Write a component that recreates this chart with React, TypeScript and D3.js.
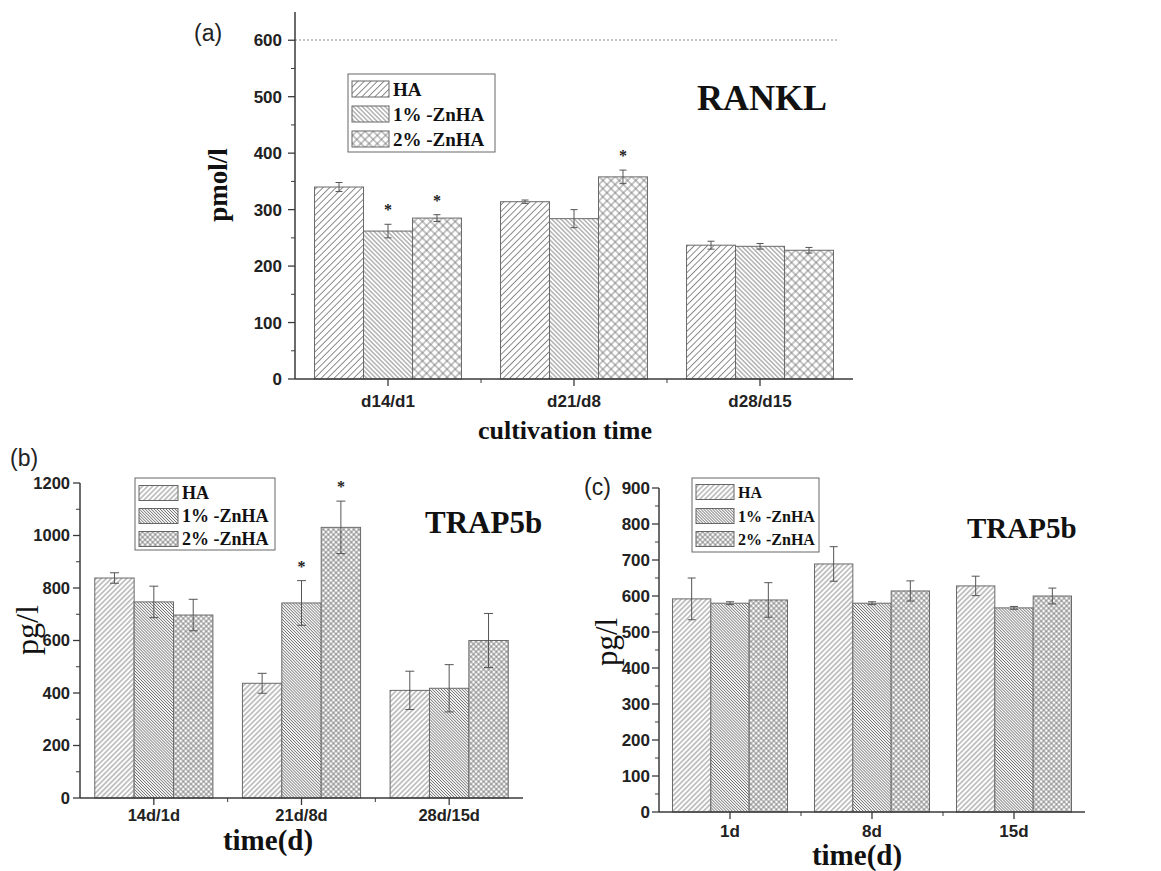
import * as d3 from 'd3'

const seriesNames = ['HA', '1% -ZnHA', '2% -ZnHA']

// (a) RANKL, pmol/l
const rankCats = ['d14/d1', 'd21/d8', 'd28/d15']
const rankHA = [340, 314, 237]
const rank1 = [262, 284, 235]
const rank2 = [285, 358, 228]
const rankErrHA = [8, 3, 7]
const rankErr1 = [12, 16, 5]
const rankErr2 = [6, 12, 5]
const rankStars = [[0, 1], [0, 2], [1, 2]] // [category, series]
const rankTicks = [0, 100, 200, 300, 400, 500, 600]

// (b) TRAP5b, pg/l
const trapCats = ['14d/1d', '21d/8d', '28d/15d']
const trapHA = [838, 437, 410]
const trap1 = [747, 743, 418]
const trap2 = [697, 1031, 600]
const trapErrHA = [20, 38, 73]
const trapErr1 = [60, 85, 90]
const trapErr2 = [60, 100, 103]
const trapStars = [[1, 1], [1, 2]]
const trapTicks = [0, 200, 400, 600, 800, 1000, 1200]

// (c) TRAP5b per day, pg/l
const dayCats = ['1d', '8d', '15d']
const dayHA = [592, 689, 628]
const day1 = [580, 580, 567]
const day2 = [589, 614, 600]
const dayErrHA = [58, 48, 27]
const dayErr1 = [4, 4, 4]
const dayErr2 = [48, 28, 22]
const dayTicks = [0, 100, 200, 300, 400, 500, 600, 700, 800, 900]

const SANS = '"Liberation Sans", Arial, sans-serif'
const SERIF = '"Liberation Serif", "Times New Roman", serif'
const HATCH = '#707070'
const AXIS = '#3a3a3a'

function hatch(id: string, s: number, angle: number, cross: boolean) {
  return (
    <pattern key={id} id={id} patternUnits="userSpaceOnUse" width={s} height={s}
      patternTransform={`rotate(${angle})`}>
      <rect width={s} height={s} fill="#fff" />
      <line x1={s / 2} y1={0} x2={s / 2} y2={s} stroke={HATCH} strokeWidth={0.8} />
      {cross && <line x1={0} y1={s / 2} x2={s} y2={s / 2} stroke={HATCH} strokeWidth={0.8} />}
    </pattern>
  )
}

type PanelProps = {
  tag: string
  cats: string[]
  vals: number[][]
  errs: number[][]
  stars: number[][]
  ticks: number[]
  minor: number
  yMax: number
  left: number
  right: number
  top: number
  bottom: number
  pad: number
  tickFont: number
  tickGap: number
  xTickY: number
  cap: number
  spacing: number[]
  legend: { x: number; y: number; w: number; h: number; rows: number[]; sw: number; sh: number; font: number }
}

function Panel(p: PanelProps) {
  const x = d3.scaleBand<string>().domain(p.cats).range([p.left, p.right])
    .paddingInner(p.pad).paddingOuter(p.pad / 2)
  const xs = d3.scaleBand<number>().domain([0, 1, 2]).range([0, x.bandwidth()])
  const y = d3.scaleLinear().domain([0, p.yMax]).range([p.bottom, p.top])
  const minors = d3.range(p.minor, p.yMax, p.minor).filter(v => !p.ticks.includes(v))
  const centers = p.cats.map(c => (x(c) as number) + x.bandwidth() / 2)
  const seps = centers.slice(0, -1).map((c, i) => (c + centers[i + 1]) / 2)
  const pats = [`${p.tag}-ha`, `${p.tag}-one`, `${p.tag}-two`]
  const L = p.legend

  return (
    <g>
      <defs>
        {hatch(pats[0], p.spacing[0], 45, false)}
        {hatch(pats[1], p.spacing[1], -45, false)}
        {hatch(pats[2], p.spacing[2], 45, true)}
      </defs>

      {p.cats.map((c, ci) => p.vals.map((vs, si) => (
        <rect key={`b${ci}-${si}`} x={(x(c) as number) + (xs(si) as number)} y={y(vs[ci])}
          width={xs.bandwidth()} height={p.bottom - y(vs[ci])}
          fill={`url(#${pats[si]})`} stroke="#6a6a6a" strokeWidth={1} />
      )))}

      {p.cats.map((c, ci) => p.vals.map((vs, si) => {
        const cx = (x(c) as number) + (xs(si) as number) + xs.bandwidth() / 2
        const hi = y(vs[ci] + p.errs[si][ci])
        const lo = y(vs[ci] - p.errs[si][ci])
        return (
          <g key={`e${ci}-${si}`} stroke="#555" strokeWidth={1}>
            <line x1={cx} x2={cx} y1={hi} y2={lo} />
            <line x1={cx - p.cap / 2} x2={cx + p.cap / 2} y1={hi} y2={hi} />
            <line x1={cx - p.cap / 2} x2={cx + p.cap / 2} y1={lo} y2={lo} />
          </g>
        )
      }))}

      {p.stars.map(([ci, si]) => {
        const cx = (x(p.cats[ci]) as number) + (xs(si) as number) + xs.bandwidth() / 2
        const top = y(p.vals[si][ci] + p.errs[si][ci])
        return (
          <text key={`s${ci}-${si}`} x={cx} y={top - 9} textAnchor="middle"
            fontFamily={SERIF} fontWeight="bold" fontSize={16} fill="#222">*</text>
        )
      })}

      {/* y axis */}
      <line x1={p.left} x2={p.left} y1={p.top} y2={p.bottom} stroke={AXIS} strokeWidth={1.5} />
      {p.ticks.map(t => (
        <g key={`t${t}`}>
          <line x1={p.left - 7} x2={p.left} y1={y(t)} y2={y(t)} stroke={AXIS} strokeWidth={1.3} />
          <text x={p.left - p.tickGap} y={y(t)} dy="0.36em" textAnchor="end"
            fontFamily={SANS} fontWeight="bold" fontSize={p.tickFont} fill="#222">{t}</text>
        </g>
      ))}
      {minors.map(t => (
        <line key={`m${t}`} x1={p.left - 4} x2={p.left} y1={y(t)} y2={y(t)} stroke={AXIS} strokeWidth={1} />
      ))}

      {/* x axis */}
      <line x1={p.left} x2={p.right} y1={p.bottom} y2={p.bottom} stroke={AXIS} strokeWidth={1.5} />
      {centers.map((c, i) => (
        <g key={`xc${i}`}>
          <line x1={c} x2={c} y1={p.bottom} y2={p.bottom + 7} stroke={AXIS} strokeWidth={1.3} />
          <text x={c} y={p.xTickY} textAnchor="middle" fontFamily={SANS} fontWeight="bold"
            fontSize={p.tickFont} fill="#222">{p.cats[i]}</text>
        </g>
      ))}
      {seps.map((s, i) => (
        <line key={`xs${i}`} x1={s} x2={s} y1={p.bottom} y2={p.bottom + 4} stroke={AXIS} strokeWidth={1} />
      ))}

      {/* legend */}
      <rect x={L.x} y={L.y} width={L.w} height={L.h} fill="#fff" stroke="#666" strokeWidth={1} />
      {seriesNames.map((n, i) => (
        <g key={`l${i}`}>
          <rect x={L.x + 4} y={L.rows[i] - L.sh / 2} width={L.sw} height={L.sh}
            fill={`url(#${pats[i]})`} stroke="#666" strokeWidth={1} />
          <text x={L.x + L.sw + 8} y={L.rows[i]} dy="0.35em" fontFamily={SERIF}
            fontWeight="bold" fontSize={L.font} fill="#111">{n}</text>
        </g>
      ))}
    </g>
  )
}

export default function App() {
  return (
    <svg width={1161} height={871} style={{ position: 'absolute', left: 0, top: 0, background: '#fff' }}>
      {/* (a) */}
      <line x1={295} x2={838} y1={40} y2={40} stroke="#888" strokeWidth={1} strokeDasharray="2,2" />
      <Panel tag="a" cats={rankCats} vals={[rankHA, rank1, rank2]} errs={[rankErrHA, rankErr1, rankErr2]}
        stars={rankStars} ticks={rankTicks} minor={50} yMax={650}
        left={295} right={853} top={12} bottom={379} pad={0.21}
        tickFont={17} tickGap={13} xTickY={407} cap={7} spacing={[4.6, 3.2, 5.8]}
        legend={{ x: 348, y: 74, w: 147, h: 78, rows: [89, 114, 139], sw: 37, sh: 16, font: 19 }} />
      <text x={194} y={41} fontFamily={SANS} fontSize={23} fill="#222">(a)</text>
      <text x={697} y={110} fontFamily={SERIF} fontWeight="bold" fontSize={36} fill="#111">RANKL</text>
      <text transform="translate(227,185) rotate(-90)" textAnchor="middle" fontFamily={SERIF}
        fontWeight="bold" fontSize={27} fill="#111">pmol/l</text>
      <text x={565} y={439} textAnchor="middle" fontFamily={SERIF} fontWeight="bold" fontSize={26}
        fill="#111">cultivation time</text>

      {/* (b) */}
      <Panel tag="b" cats={trapCats} vals={[trapHA, trap1, trap2]} errs={[trapErrHA, trapErr1, trapErr2]}
        stars={trapStars} ticks={trapTicks} minor={100} yMax={1200}
        left={80} right={523} top={483} bottom={798} pad={0.2}
        tickFont={16.5} tickGap={10} xTickY={821} cap={9} spacing={[3.6, 2.1, 3.6]}
        legend={{ x: 135, y: 478, w: 140, h: 72, rows: [493, 516, 539], sw: 39, sh: 15, font: 18 }} />
      <text x={10} y={466} fontFamily={SANS} fontSize={23} fill="#222">(b)</text>
      <text x={425} y={533} fontFamily={SERIF} fontWeight="bold" fontSize={31} fill="#111">TRAP5b</text>
      <text transform="translate(38,630) rotate(-90)" textAnchor="middle" fontFamily={SERIF}
        fontSize={32} fill="#111">pg/l</text>
      <text x={268} y={850} textAnchor="middle" fontFamily={SERIF} fontWeight="bold" fontSize={29}
        fill="#111">time(d)</text>

      {/* (c) */}
      <Panel tag="c" cats={dayCats} vals={[dayHA, day1, day2]} errs={[dayErrHA, dayErr1, dayErr2]}
        stars={[]} ticks={dayTicks} minor={50} yMax={900}
        left={659} right={1085} top={488} bottom={812} pad={0.19}
        tickFont={17} tickGap={9} xTickY={837} cap={8} spacing={[3.6, 2.1, 3.6]}
        legend={{ x: 692, y: 478, w: 127, h: 74, rows: [492, 516, 539], sw: 38, sh: 15, font: 16 }} />
      <text x={584} y={495} fontFamily={SANS} fontSize={23} fill="#222">(c)</text>
      <text x={967} y={538} fontFamily={SERIF} fontWeight="bold" fontSize={29} fill="#111">TRAP5b</text>
      <text transform="translate(617,642) rotate(-90)" textAnchor="middle" fontFamily={SERIF}
        fontSize={31} fill="#111">pg/l</text>
      <text x={857} y={865} textAnchor="middle" fontFamily={SERIF} fontWeight="bold" fontSize={29}
        fill="#111">time(d)</text>
    </svg>
  )
}
